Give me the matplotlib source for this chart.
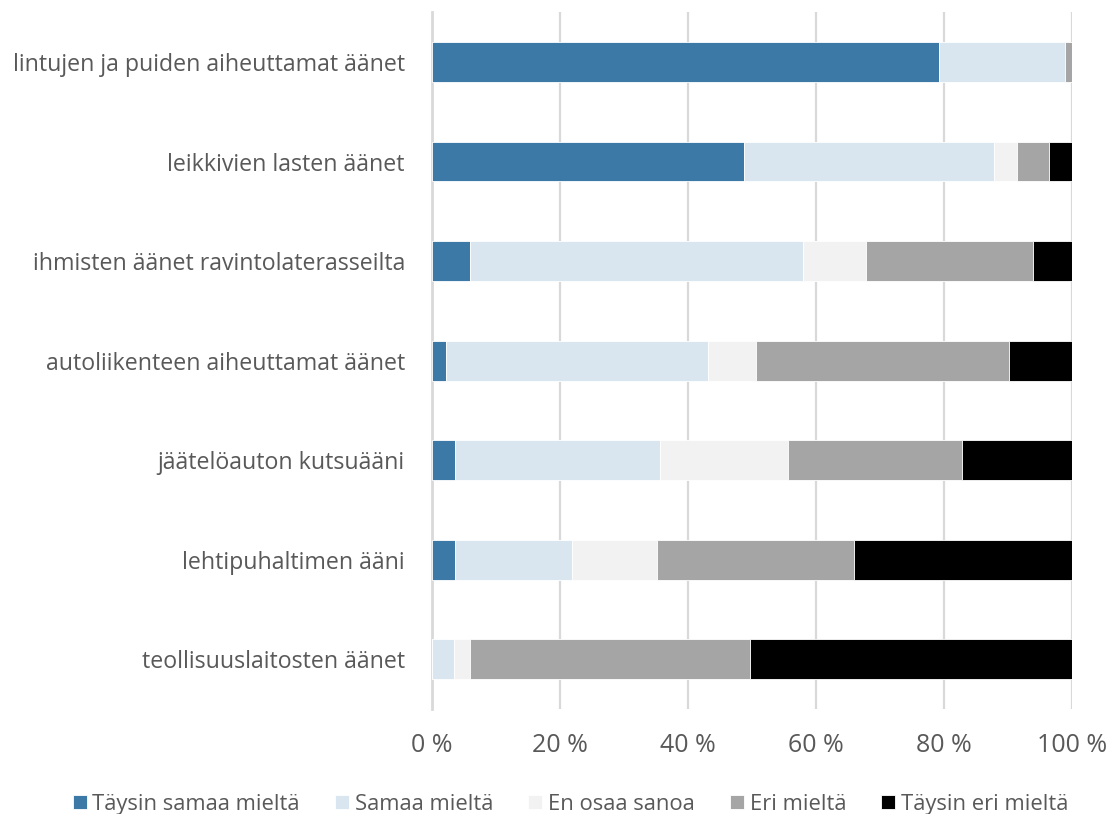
import numpy as np
import matplotlib
matplotlib.use("Agg")
import matplotlib.pyplot as plt

categories = [
    "lintujen ja puiden aiheuttamat äänet",
    "leikkivien lasten äänet",
    "ihmisten äänet ravintolaterasseilta",
    "autoliikenteen aiheuttamat äänet",
    "jäätelöauton kutsuääni",
    "lehtipuhaltimen ääni",
    "teollisuuslaitosten äänet",
]
series_names = ["Täysin samaa mieltä", "Samaa mieltä", "En osaa sanoa", "Eri mieltä", "Täysin eri mieltä"]
taysin_samaa = [79.2, 48.8, 5.9, 2.2, 3.6, 3.6, 0.0]
samaa = [19.7, 39.0, 52.1, 40.9, 32.0, 18.3, 3.5]
en_osaa = [0.0, 3.6, 9.8, 7.5, 20.0, 13.3, 2.5]
eri = [1.1, 5.0, 26.1, 39.6, 27.2, 30.7, 43.7]
taysin_eri = [0.0, 3.6, 6.1, 9.8, 17.2, 34.1, 50.3]
xticks = [0, 20, 40, 60, 80, 100]

COLORS = ["#3D79A6", "#D9E6EF", "#F2F2F2", "#A5A5A5", "#000000"]
TXT = "#595959"

plt.rcParams["font.family"] = ["Open Sans", "DejaVu Sans"]

fig = plt.figure(figsize=(11.12, 8.14), dpi=100)
ax = fig.add_axes([0.3885, 0.129, 0.5755, 0.856])

y = np.arange(len(categories))
left = np.zeros(len(categories))
for name, vals, col in zip(series_names, [taysin_samaa, samaa, en_osaa, eri, taysin_eri], COLORS):
    v = np.array(vals)
    ax.barh(y, v, left=left, height=0.4, color=col, label=name,
            edgecolor="white", linewidth=0.6, zorder=3)
    left += v

ax.set_ylim(len(categories) - 0.5, -0.5)
ax.set_xlim(0, 100)
ax.set_yticks(y)
ax.set_yticklabels(categories, fontsize=16.7, color=TXT)
ax.set_xticks(xticks)
ax.set_xticklabels([f"{t} %" for t in xticks], fontsize=18, color=TXT)
ax.tick_params(axis="both", length=0)
ax.tick_params(axis="y", pad=19.5)
ax.tick_params(axis="x", pad=17)
for s in ["top", "right", "bottom"]:
    ax.spines[s].set_visible(False)
ax.spines["left"].set_color("#D9D9D9")
ax.spines["left"].set_linewidth(2)
ax.grid(axis="x", color="#D9D9D9", linewidth=1.6, zorder=0)
ax.set_axisbelow(True)

leg = fig.legend(loc="lower center", bbox_to_anchor=(0.513, -0.025), ncol=5, frameon=False,
                 fontsize=15.8, handlelength=0.65, handleheight=0.65, handletextpad=0.25,
                 columnspacing=1.6)
for t in leg.get_texts():
    t.set_color(TXT)

fig.savefig("out.png", dpi=100, facecolor="white")
